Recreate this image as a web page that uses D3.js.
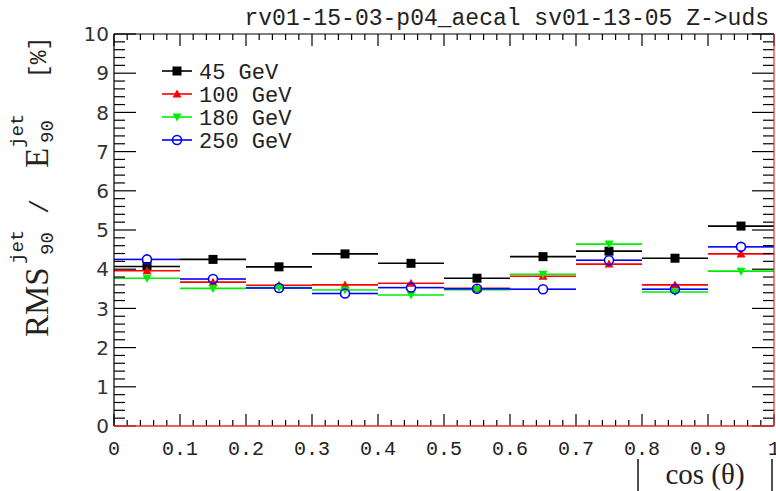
<!DOCTYPE html>
<html>
<head>
<meta charset="utf-8">
<script src="https://cdn.jsdelivr.net/npm/d3@7"></script>
<style>
  html, body { margin: 0; padding: 0; background: #fff; }
  svg { display: block; }
</style>
</head>
<body>
<div id="chart"></div>
<script>
// ── Data ──────────────────────────────────────────────────────────────────────

const binEdges = [0, 0.1, 0.2, 0.3, 0.4, 0.5, 0.6, 0.7, 0.8, 0.9, 1.0];
const xTicks = [0, 0.1, 0.2, 0.3, 0.4, 0.5, 0.6, 0.7, 0.8, 0.9, 1];
const yTicks = [0, 1, 2, 3, 4, 5, 6, 7, 8, 9, 10];

const seriesNames = ["45 GeV", "100 GeV", "180 GeV", "250 GeV"];
const res45 = [4.07, 4.25, 4.06, 4.39, 4.15, 3.77, 4.32, 4.46, 4.28, 5.10];
const res100 = [3.96, 3.67, 3.59, 3.60, 3.64, 3.51, 3.82, 4.13, 3.60, 4.39];
const res180 = [3.77, 3.51, 3.53, 3.47, 3.34, 3.48, 3.87, 4.64, 3.42, 3.95];
const res250 = [4.25, 3.75, 3.52, 3.38, 3.53, 3.50, 3.49, 4.23, 3.49, 4.57];

const titleText = "rv01-15-03-p04_aecal sv01-13-05 Z->uds";

// ── Layout ────────────────────────────────────────────────────────────────────

const W = 776, H = 491;
const frame = { left: 114, right: 774, top: 34, bottom: 426 };
const mono = "'Liberation Mono', 'DejaVu Sans Mono', monospace";
const serif = "'Liberation Serif', 'DejaVu Serif', serif";
const sans = "'DejaVu Sans', sans-serif";

const series = [
  { name: seriesNames[0], values: res45, color: "#000000", marker: "square" },
  { name: seriesNames[1], values: res100, color: "#ff0000", marker: "triUp" },
  { name: seriesNames[2], values: res180, color: "#00ee00", marker: "triDown" },
  { name: seriesNames[3], values: res250, color: "#0000ff", marker: "circle" },
];

const x = d3.scaleLinear().domain([0, 1]).range([frame.left, frame.right]);
const y = d3.scaleLinear().domain([0, 10]).range([frame.bottom, frame.top]);

const svg = d3.select("#chart").append("svg").attr("width", W).attr("height", H);
svg.append("rect").attr("width", W).attr("height", H).attr("fill", "#fff");

// ── Markers ───────────────────────────────────────────────────────────────────

function drawMarker(g, type, cx, cy, color) {
  if (type === "square") {
    g.append("rect").attr("x", cx - 4.5).attr("y", cy - 4.5)
      .attr("width", 9).attr("height", 9).attr("fill", color);
  } else if (type === "triUp") {
    g.append("path").attr("d", `M${cx - 4.5},${cy + 3.5}L${cx + 4.5},${cy + 3.5}L${cx},${cy - 4.5}Z`)
      .attr("fill", color);
  } else if (type === "triDown") {
    g.append("path").attr("d", `M${cx - 4.5},${cy - 3.5}L${cx + 4.5},${cy - 3.5}L${cx},${cy + 4.5}Z`)
      .attr("fill", color);
  } else {
    g.append("circle").attr("cx", cx).attr("cy", cy).attr("r", 4.5)
      .attr("fill", "none").attr("stroke", color).attr("stroke-width", 1.6);
  }
}

// ── Data points (horizontal bin bars + markers) ───────────────────────────────

const plot = svg.append("g");
for (const s of series) {
  const g = plot.append("g");
  s.values.forEach((v, i) => {
    const x0 = x(binEdges[i]), x1 = x(binEdges[i + 1]);
    const cx = (x0 + x1) / 2, cy = y(v);
    const gap = s.marker === "circle" ? 5 : 0;
    g.append("line").attr("x1", x0).attr("x2", cx - gap).attr("y1", cy).attr("y2", cy)
      .attr("stroke", s.color).attr("stroke-width", 1.6);
    g.append("line").attr("x1", cx + gap).attr("x2", x1).attr("y1", cy).attr("y2", cy)
      .attr("stroke", s.color).attr("stroke-width", 1.6);
    drawMarker(g, s.marker, cx, cy, s.color);
  });
}

// ── Frame and ticks ───────────────────────────────────────────────────────────

const axes = svg.append("g").attr("stroke", "#000").attr("stroke-width", 1.2);

const yMinor = d3.range(0, 10.001, 0.2);
for (const t of yMinor) {
  const major = Math.abs(t - Math.round(t)) < 1e-6;
  const len = major ? 22 : 11;
  axes.append("line").attr("x1", frame.left).attr("x2", frame.left + len)
    .attr("y1", y(t)).attr("y2", y(t));
  axes.append("line").attr("x1", frame.right).attr("x2", frame.right - len)
    .attr("y1", y(t)).attr("y2", y(t));
}

const xMinor = d3.range(0, 1.0001, 0.02);
for (const t of xMinor) {
  const major = Math.abs(t * 10 - Math.round(t * 10)) < 1e-6;
  const len = major ? 12 : 6;
  axes.append("line").attr("x1", x(t)).attr("x2", x(t))
    .attr("y1", frame.bottom).attr("y2", frame.bottom - len);
  axes.append("line").attr("x1", x(t)).attr("x2", x(t))
    .attr("y1", frame.top).attr("y2", frame.top + len);
}

// frame: left/top black, bottom/right red
axes.append("line").attr("x1", frame.left).attr("x2", frame.left)
  .attr("y1", frame.top).attr("y2", frame.bottom);
axes.append("line").attr("x1", frame.left).attr("x2", frame.right)
  .attr("y1", frame.top).attr("y2", frame.top);
svg.append("line").attr("x1", frame.left).attr("x2", frame.right)
  .attr("y1", frame.bottom).attr("y2", frame.bottom)
  .attr("stroke", "#e03030").attr("stroke-width", 1.6);
svg.append("line").attr("x1", frame.right).attr("x2", frame.right)
  .attr("y1", frame.top).attr("y2", frame.bottom)
  .attr("stroke", "#e03030").attr("stroke-width", 1.2);

// ── Tick labels ───────────────────────────────────────────────────────────────

svg.append("g").selectAll("text").data(yTicks).join("text")
  .attr("x", 109).attr("y", (d) => y(d)).attr("dy", "0.36em")
  .attr("text-anchor", "end")
  .attr("font-family", sans).attr("font-size", "20px").attr("fill", "#333")
  .text((d) => d);

svg.append("g").selectAll("text").data(xTicks).join("text")
  .attr("x", (d) => x(d)).attr("y", 455)
  .attr("text-anchor", "middle")
  .attr("font-family", mono).attr("font-size", "20px").attr("fill", "#222")
  .text((d) => d);

// ── Title ─────────────────────────────────────────────────────────────────────

svg.append("text").attr("x", 769).attr("y", 25).attr("text-anchor", "end")
  .attr("font-family", mono).attr("font-size", "23px").attr("fill", "#222")
  .text(titleText);

// ── Axis titles ───────────────────────────────────────────────────────────────

// x: |cos(θ)|
svg.append("text").attr("x", 705).attr("y", 484).attr("text-anchor", "middle")
  .attr("font-family", serif).attr("font-size", "29px").attr("fill", "#222")
  .text("cos (θ)");
svg.append("line").attr("x1", 638).attr("x2", 638).attr("y1", 459).attr("y2", 491)
  .attr("stroke", "#222").attr("stroke-width", 1.6);
svg.append("line").attr("x1", 772).attr("x2", 772).attr("y1", 459).attr("y2", 491)
  .attr("stroke", "#222").attr("stroke-width", 1.6);

// y: RMS_90^jet / E_90^jet [%]  (rotated pieces, start = bottom end)
const yTitle = [
  { t: "RMS", bx: 48, by: 337, font: serif, size: 33 },
  { t: "90", bx: 53, by: 255, font: mono, size: 19 },
  { t: "jet", bx: 23, by: 264, font: mono, size: 19 },
  { t: "/", bx: 48, by: 214, font: mono, size: 25 },
  { t: "E", bx: 48, by: 168, font: serif, size: 33 },
  { t: "90", bx: 53, by: 143, font: mono, size: 19 },
  { t: "jet", bx: 23, by: 148, font: mono, size: 19 },
  { t: "[%]", bx: 46, by: 78, font: mono, size: 23 },
];
for (const p of yTitle) {
  svg.append("text")
    .attr("transform", `translate(${p.bx},${p.by}) rotate(-90)`)
    .attr("font-family", p.font).attr("font-size", p.size + "px").attr("fill", "#222")
    .text(p.t);
}

// ── Legend ────────────────────────────────────────────────────────────────────

const legend = svg.append("g");
series.forEach((s, i) => {
  const ly = 71 + i * 23;
  legend.append("line").attr("x1", 162).attr("x2", 192).attr("y1", ly).attr("y2", ly)
    .attr("stroke", s.color).attr("stroke-width", 1.6);
  drawMarker(legend, s.marker, 177, ly, s.color);
  legend.append("text").attr("x", 199).attr("y", ly).attr("dy", "0.36em")
    .attr("font-family", mono).attr("font-size", "22px").attr("fill", "#222")
    .text(s.name);
});
</script>
</body>
</html>
